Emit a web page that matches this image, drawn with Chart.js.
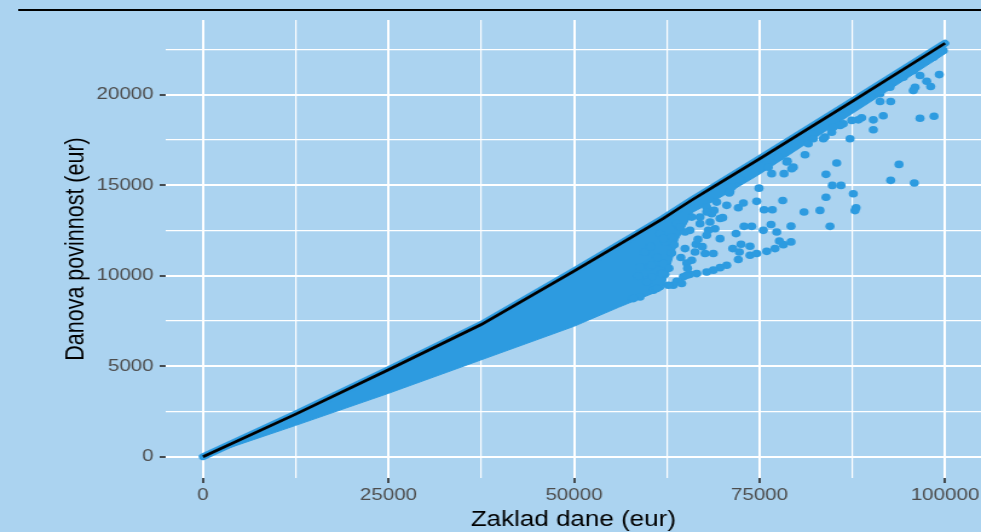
<!DOCTYPE html>
<html>
<head>
<meta charset="utf-8">
<script src="https://cdn.jsdelivr.net/npm/chart.js@4.4.1/dist/chart.umd.min.js"></script>
<style>
  html, body { margin: 0; padding: 0; background: #abd3f0; overflow: hidden; }
  #wrap { width: 981px; height: 532px; overflow: hidden; }
  /* the source picture is stretched sideways, so draw narrow and widen */
  canvas { display: block; transform: scaleX(1.2096); transform-origin: 0 0; }
</style>
</head>
<body>
<div id="wrap"><canvas id="c" width="811" height="532"></canvas></div>
<script>
const BG = '#abd3f0', PT = '#2d9be0', TXT = '#4d4d4d', TICK = '#333333';
const FONT = "'Liberation Sans', Arial, sans-serif";

// max tax curve (black line), read at these incomes
const LINE_X = [0, 12500, 25000, 37500, 50000, 56000, 62000, 64000, 66000, 69000, 75000, 87500, 100000];
const LINE_Y = [0, 2350, 4800, 7300, 10250, 11700, 13150, 13680, 14200, 14950, 16450, 19620, 22830];
// lower edge of the solid cloud of points
const BAND_LOW = [0, 1730, 3500, 5350, 7200, 8250, 9250, 12000, 13500, 14150, 15600, 18950, 22250];

// scattered points below the cloud
const PTS_X = [99230, 97530, 98070, 95960, 95730, 96630, 98520, 92680, 91240, 91680, 90340, 90340,
  87200, 88770, 88320, 87430, 86290, 85850, 83830, 83600, 81130, 85400, 93800, 79560, 95730, 96630,
  94380, 92590, 91240, 89890, 98420, 99770, 81580, 83960, 92680, 95860, 84810, 85980, 87640, 83960,
  78130, 81000, 83150, 88010, 87870, 79250, 84500, 79250, 78210, 78750, 78300, 82250, 84730, 84950,
  74930, 74620, 75610, 76730, 76550, 75510, 73950, 72910, 71830, 77320, 77670, 75970, 77090, 72510,
  73720, 71390, 72280, 73720, 74620, 72140, 70580, 72140, 72820, 71020, 71250, 68870, 69680, 69000,
  69680, 68100, 67880, 66440, 64960, 66310, 67660, 63170, 62260, 61590, 63840, 65630, 66980, 68330,
  70040, 68560, 66980, 76190, 76640, 79340, 78670, 77530, 70930, 72370, 69230, 67880, 65860, 64960,
  64290, 68770, 65190, 61820, 60240, 58890, 60470, 58670, 62260, 63170, 67880, 70580, 69680, 68770,
  67880, 66540, 65630, 64730, 63840, 63380, 62710, 64520, 60690, 59800, 60470, 62040, 61820, 59570,
  62040, 65190, 65860, 61150, 58890, 57990, 63500, 64400, 65300, 66700, 67300, 62800, 61200, 60300];
const PTS_Y = [21100, 20730, 20440, 20400, 20220, 18690, 18800, 19610, 19610, 18830, 18600, 18050,
  17560, 18710, 18600, 18570, 18380, 18290, 17650, 17560, 16670, 16220, 16140, 15990, 21320, 21050,
  20950, 20400, 20040, 19850, 22060, 22430, 17280, 15590, 15260, 15110, 14980, 14980, 14520, 14330,
  14150, 13510, 13600, 13750, 13590, 12730, 12720, 11860, 11710, 16320, 15630, 17560, 17920, 18200,
  14830, 14100, 13640, 13640, 12820, 12500, 12720, 12720, 12320, 12410, 11910, 11340, 11490, 11730,
  11620, 11490, 11300, 11120, 11220, 10890, 13880, 13750, 14010, 14650, 14890, 13600, 13150, 12590,
  12040, 12500, 12230, 11730, 11490, 11300, 11220, 11250, 11860, 12320, 12870, 12500, 12870, 12960,
  13200, 13420, 13230, 15990, 15630, 15900, 16270, 16540, 14560, 15300, 14060, 13790, 13230, 12410,
  12680, 11220, 10700, 10700, 10480, 10480, 9930, 9960, 10070, 12130, 13510, 10570, 10440, 10300,
  10200, 10110, 10070, 9930, 9690, 9470, 9470, 9560, 9190, 9650, 10570, 10660, 10110, 11300,
  12040, 10020, 10850, 9290, 8820, 8730, 11700, 11000, 10400, 12000, 11600, 10400, 11000, 11600];

const X_TICKS = [0, 25000, 50000, 75000, 100000];
const X_MINOR = [12500, 37500, 62500, 87500];
const Y_TICKS = [0, 5000, 10000, 15000, 20000];
const Y_MINOR = [2500, 7500, 12500, 17500, 22500];

const xy = (xs, ys) => xs.map((x, i) => ({ x, y: ys[i] }));

const frame = {
  id: 'frame',
  beforeDraw(chart) {
    const { ctx, width, height } = chart;
    ctx.save();
    ctx.fillStyle = BG;
    ctx.fillRect(0, 0, width, height);
    ctx.strokeStyle = '#000';
    ctx.lineWidth = 2;
    ctx.beginPath();
    ctx.moveTo(15, 10);
    ctx.lineTo(width, 10);
    ctx.stroke();
    ctx.restore();
  }
};

const noPad = s => { s.paddingLeft = 0; s.paddingRight = 0; s.paddingTop = 0; s.paddingBottom = 0; };

const axis = (major, minor, min, max, extra) => ({
  type: 'linear', min, max,
  afterBuildTicks: s => { s.ticks = major.concat(minor).sort((a, b) => a - b).map(v => ({ value: v })); },
  border: { display: false },
  grid: {
    color: '#ffffff',
    lineWidth: c => major.includes(c.tick.value) ? 2 : 1.2,
    tickLength: 5, tickWidth: 1.7,
    tickColor: c => major.includes(c.tick.value) ? TICK : 'rgba(0,0,0,0)'
  },
  ...extra
});

new Chart(document.getElementById('c'), {
  type: 'line',
  data: {
    datasets: [
      { data: xy(LINE_X, LINE_Y), borderColor: PT, borderWidth: 7, borderCapStyle: 'round', pointRadius: 0, fill: false, order: 3 },
      { data: xy(LINE_X, BAND_LOW), borderColor: PT, borderWidth: 1, backgroundColor: PT, pointRadius: 0, fill: 0, order: 4 },
      { data: xy(PTS_X, PTS_Y), showLine: false, pointRadius: 3.8, pointBorderWidth: 0, pointBackgroundColor: PT, order: 2 },
      { data: xy(LINE_X, LINE_Y), borderColor: '#000', borderWidth: 2.7, pointRadius: 0, fill: false, order: 1 }
    ]
  },
  options: {
    responsive: false, animation: false,
    layout: { autoPadding: false, padding: { top: 20, left: 0, right: 0, bottom: 0 } },
    plugins: { legend: { display: false }, tooltip: { enabled: false } },
    scales: {
      x: axis(X_TICKS, X_MINOR, -5025, 104850, {
        afterFit: s => { s.height = 54; noPad(s); },
        ticks: { color: TXT, font: { family: FONT, size: 17 }, padding: 2, maxRotation: 0, autoSkip: false,
          callback: v => X_TICKS.includes(v) ? String(v) : '' },
        title: { display: true, text: 'Zaklad dane (eur)', color: '#000',
          font: { family: FONT, size: 21.5, lineHeight: 1 }, padding: { top: 0, bottom: 1 } }
      }),
      y: axis(Y_TICKS, Y_MINOR, -1176, 24114, {
        afterFit: s => { s.width = 137; noPad(s); },
        ticks: { color: TXT, font: { family: FONT, size: 17 }, padding: 5, autoSkip: false,
          callback: v => Y_TICKS.includes(v) ? String(v) : '' },
        title: { display: true, text: 'Danova povinnost (eur)', color: '#000',
          font: { family: FONT, size: 21.5, lineHeight: 1.2 }, padding: { top: 50, bottom: 0 } }
      })
    }
  },
  plugins: [frame]
});
</script>
</body>
</html>
